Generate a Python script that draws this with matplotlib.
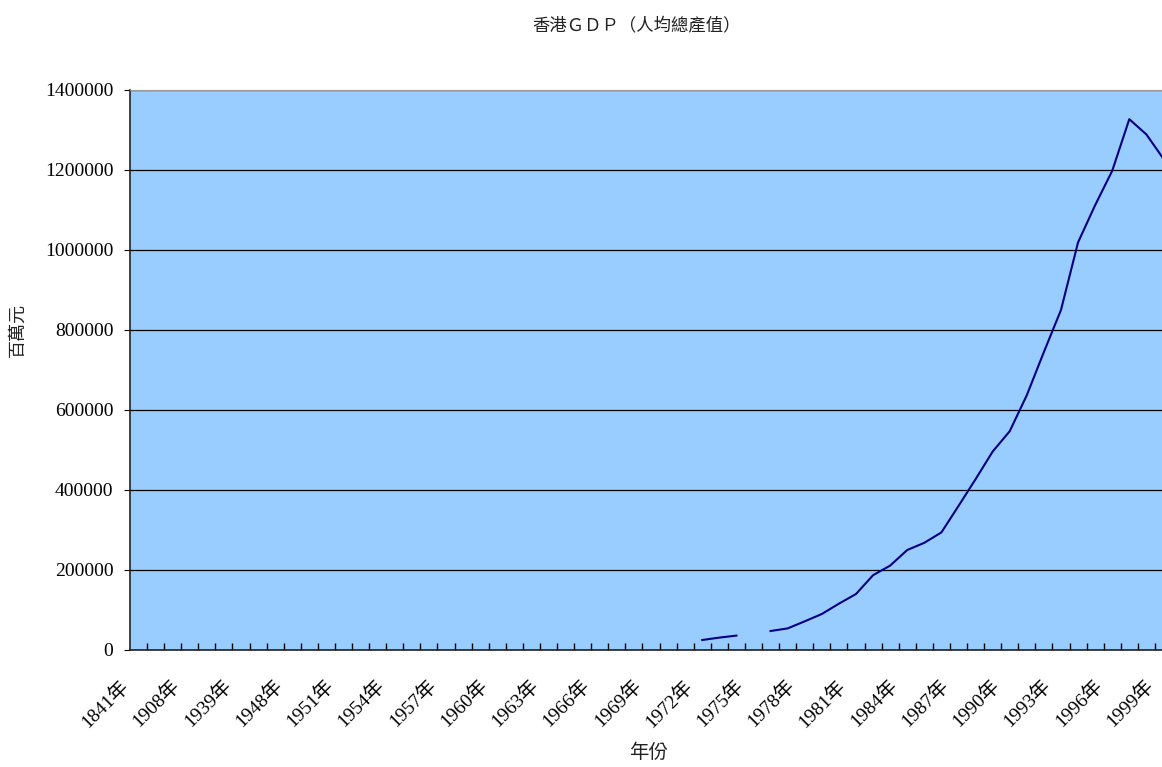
import numpy as np
import matplotlib
matplotlib.use('Agg')
import matplotlib.pyplot as plt
from matplotlib.transforms import ScaledTranslation

plt.rcParams['font.family'] = ['Liberation Serif', 'Noto Sans CJK TC']

# 類別 (年份)
years = ['1841', '1861', '1881', '1908', '1921', '1931', '1939', '1941', '1945'] + \
        [str(y) for y in range(1948, 2000)]
year_labels = [y + '年' for y in years]

# GDP (百萬元)，缺數據用 nan
gdp_known = {
    1972: 25000, 1973: 31000, 1974: 36000,
    1976: 47500, 1977: 54000, 1978: 71700, 1979: 90000, 1980: 115800,
    1981: 140000, 1982: 187000, 1983: 211000, 1984: 250000, 1985: 268000,
    1986: 294000, 1987: 360000, 1988: 427000, 1989: 496000, 1990: 547000,
    1991: 637000, 1992: 745000, 1993: 850000, 1994: 1019000, 1995: 1112000,
    1996: 1198000, 1997: 1327000, 1998: 1289000, 1999: 1228000,
}
gdp = [gdp_known.get(int(y), np.nan) for y in years]

y_ticks = list(range(0, 1400001, 200000))

W, H = 1162, 767
fig = plt.figure(figsize=(W / 100, H / 100), dpi=100)
# 繪圖區右邊超出圖片 (原圖被裁切)
left, right, top, bottom = 130, 1172, 90, 650
ax = fig.add_axes([left / W, 1 - bottom / H, (right - left) / W, (bottom - top) / H])
ax.set_facecolor('#99CCFF')

x = np.arange(len(years))
ax.plot(x, gdp, color='#000080', linewidth=1.5)

ax.set_xlim(-0.5, len(years) - 0.5)
ax.set_ylim(0, 1400000)

# 格線
ax.set_yticks(y_ticks)
ax.set_yticklabels([str(v) for v in y_ticks], fontsize=14)
ax.yaxis.grid(True, color='black', linewidth=0.9)
ax.set_axisbelow(True)
ax.tick_params(axis='y', direction='out', length=4, width=0.8, pad=8)

# x 軸：邊界刻度 + 每三年一標籤
ax.set_xticks(x[::3])
ax.set_xticklabels(year_labels[::3], rotation=45, ha='right', va='top',
                   rotation_mode='anchor', fontsize=14)
ax.set_xticks(np.arange(0.5, len(years) - 0.5, 1), minor=True)
ax.tick_params(axis='x', which='major', length=0, pad=19)
ax.tick_params(axis='x', which='minor', direction='in', length=5, width=1, color='black')
offset = ScaledTranslation(-14 / 72, 0, fig.dpi_scale_trans)
for lab in ax.get_xticklabels():
    lab.set_transform(lab.get_transform() + offset)

for s in ['left', 'bottom']:
    ax.spines[s].set_color('#222222')
    ax.spines[s].set_linewidth(1.2)
ax.spines['top'].set_color('#999999')
ax.spines['right'].set_visible(False)

cjk = ['Noto Sans CJK TC', 'DejaVu Sans']
fig.text(637 / W, 1 - 26 / H, '香港ＧＤＰ（人均總產值）', ha='center', va='center',
         fontsize=12.5, family=cjk, color='#222222')
fig.text(649 / W, 1 - 752 / H, '年份', ha='center', va='center', fontsize=14,
         family=cjk, color='#222222')
fig.text(18 / W, 1 - 330 / H, '百萬元', ha='center', va='center', rotation=90,
         fontsize=13, family=cjk, color='#222222')

fig.savefig('out.png', dpi=100)
